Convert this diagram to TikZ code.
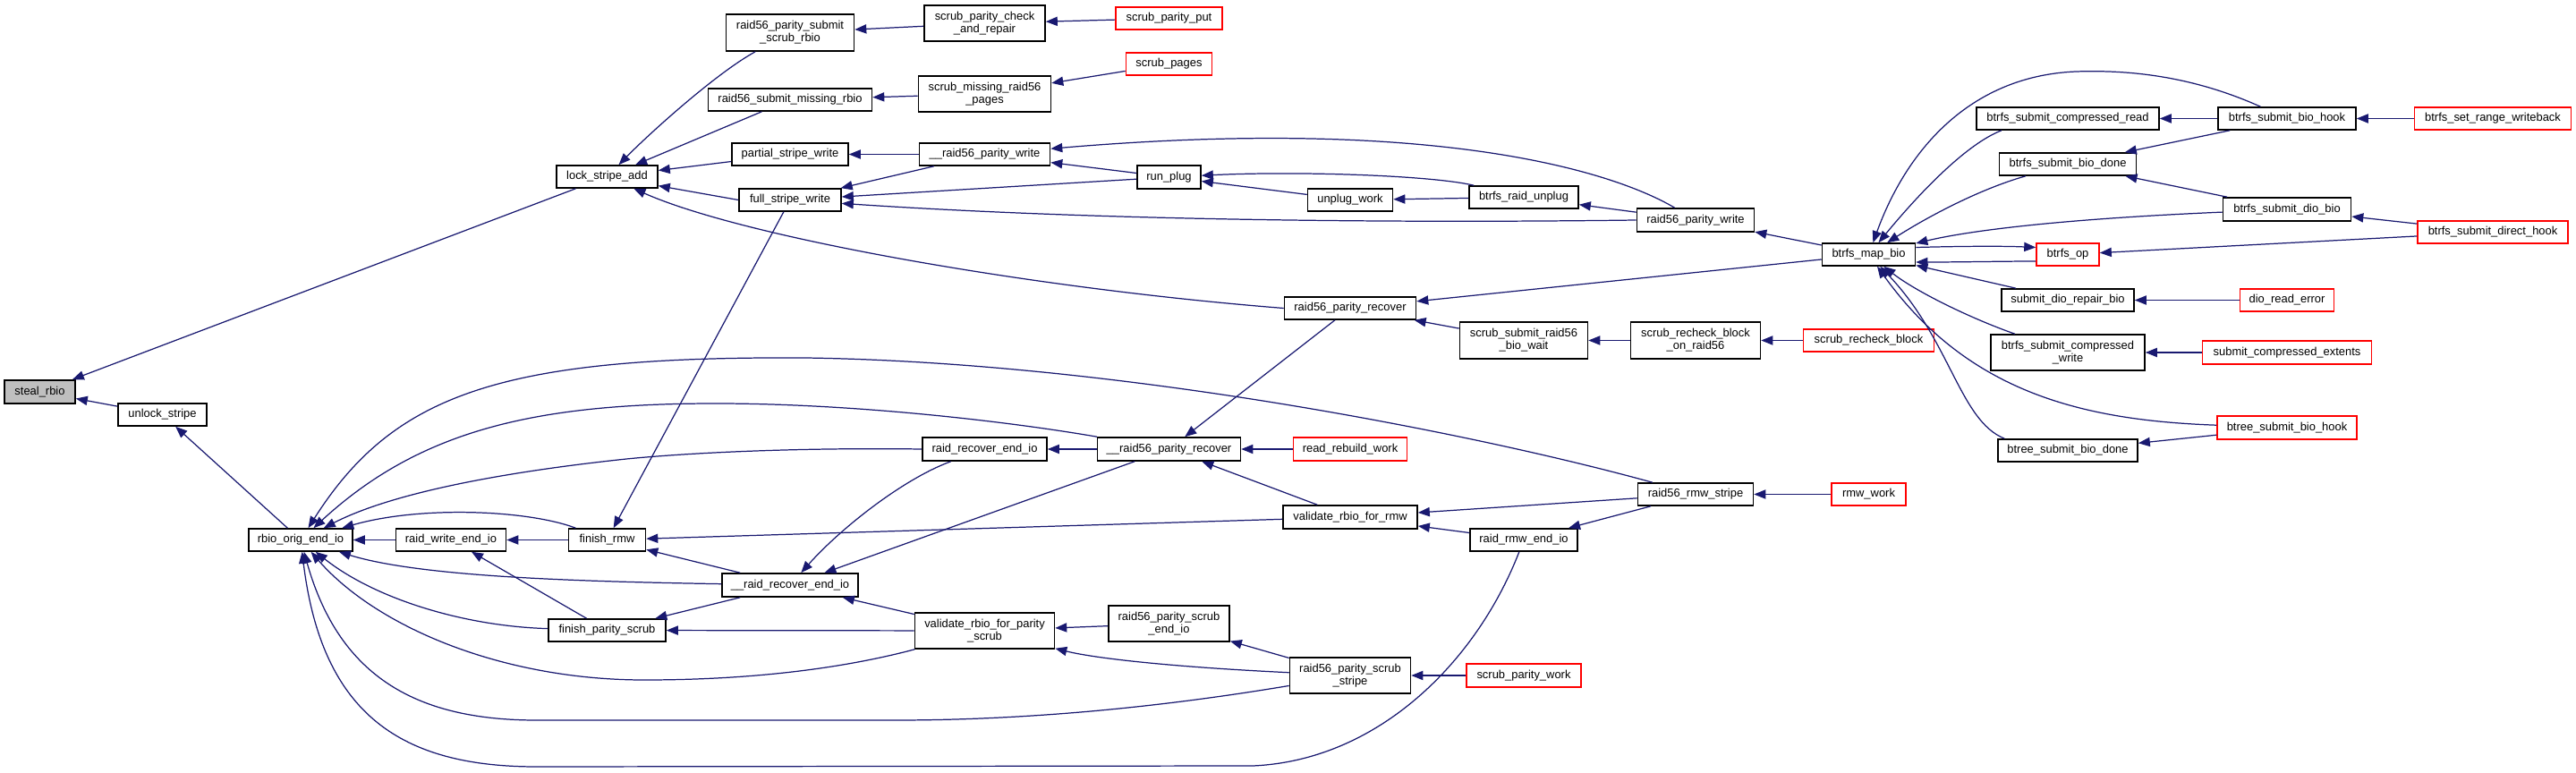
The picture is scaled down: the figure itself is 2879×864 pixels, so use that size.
\documentclass[tikz,border=0pt]{standalone}
\usepackage{fontspec}
\setmainfont{Liberation Sans}
\usetikzlibrary{arrows.meta}
\definecolor{edgeblue}{HTML}{191970}
\definecolor{grayfill}{HTML}{BFBFBF}
\tikzset{
  wh/.style 2 args={minimum width=#1*0.01cm,minimum height=#2*0.01cm},
  nb/.style={draw=black,line width=0.45pt,fill=white,inner sep=0pt,align=center,
             font=\fontsize{3.68pt}{4pt}\selectfont},
  rb/.style={nb,draw=red},
  arr/.style={draw=edgeblue,line width=0.35pt,-{Triangle[length=3.7pt,width=2.9pt]}}
}
\begin{document}
\begin{tikzpicture}[x=0.01cm,y=-0.01cm]
\useasboundingbox (0,0) rectangle (2879,864);
% ---- nodes ----
\node[nb,wh={79}{26},fill=grayfill] (sr) at (44.5,438) {steal\_rbio};
\node[nb,wh={99}{25}] (us) at (181.5,463.5) {unlock\_stripe};
\node[nb,wh={116}{25}] (roe) at (336,603.5) {rbio\_orig\_end\_io};
\node[nb,wh={123}{25}] (rwe) at (504,603.5) {raid\_write\_end\_io};
\node[nb,wh={113}{25}] (lsa) at (678.5,197.5) {lock\_stripe\_add};
\node[nb,wh={86}{25}] (frmw) at (678.5,603.5) {finish\_rmw};
\node[nb,wh={131}{25}] (fps) at (678.5,704.5) {finish\_parity\_scrub};
\node[nb,wh={143}{41}] (rpssr) at (883,36.5) {raid56\_parity\_submit\\\_scrub\_rbio};
\node[nb,wh={183}{25}] (rsmr) at (883,111.5) {raid56\_submit\_missing\_rbio};
\node[nb,wh={130}{25}] (psw) at (883,172.5) {partial\_stripe\_write};
\node[nb,wh={114}{25}] (fsw) at (883,223.5) {full\_stripe\_write};
\node[nb,wh={152}{26}] (rre2) at (883,654) {\_\_raid\_recover\_end\_io};
\node[nb,wh={135}{40}] (spcr) at (1100.5,26) {scrub\_parity\_check\\\_and\_repair};
\node[nb,wh={148}{40}] (smrp) at (1100.5,105) {scrub\_missing\_raid56\\\_pages};
\node[nb,wh={146}{25}] (rpw2) at (1100.5,172.5) {\_\_raid56\_parity\_write};
\node[nb,wh={139}{26}] (rree) at (1100.5,502) {raid\_recover\_end\_io};
\node[nb,wh={156}{40}] (vps) at (1100.5,705) {validate\_rbio\_for\_parity\\\_scrub};
\node[rb,wh={119}{25}] (spp) at (1306.5,20.5) {scrub\_parity\_put};
\node[rb,wh={96}{25}] (sp) at (1306.5,71.5) {scrub\_pages};
\node[nb,wh={71}{26}] (rp) at (1306.5,198) {run\_plug};
\node[nb,wh={160}{26}] (rpr2) at (1306.5,502) {\_\_raid56\_parity\_recover};
\node[nb,wh={135}{40}] (psei) at (1306.5,697) {raid56\_parity\_scrub\\\_end\_io};
\node[nb,wh={95}{25}] (uw) at (1509,223.5) {unplug\_work};
\node[nb,wh={147}{25}] (rpr) at (1509,344.5) {raid56\_parity\_recover};
\node[rb,wh={127}{26}] (rrw) at (1509,502) {read\_rebuild\_work};
\node[nb,wh={150}{26}] (vrr) at (1509,578) {validate\_rbio\_for\_rmw};
\node[nb,wh={135}{40}] (pss) at (1509,755) {raid56\_parity\_scrub\\\_stripe};
\node[nb,wh={122}{25}] (bru) at (1703,220.5) {btrfs\_raid\_unplug};
\node[nb,wh={143}{41}] (ssrb) at (1703,380.5) {scrub\_submit\_raid56\\\_bio\_wait};
\node[nb,wh={120}{25}] (rrei) at (1703,603.5) {raid\_rmw\_end\_io};
\node[rb,wh={128}{26}] (spw) at (1703,755) {scrub\_parity\_work};
\node[nb,wh={131}{26}] (rpw) at (1895,246) {raid56\_parity\_write};
\node[nb,wh={145}{41}] (srbr) at (1895,380.5) {scrub\_recheck\_block\\\_on\_raid56};
\node[nb,wh={129}{25}] (rms) at (1895,552.5) {raid56\_rmw\_stripe};
\node[nb,wh={104}{25}] (bmb) at (2088.5,284.5) {btrfs\_map\_bio};
\node[rb,wh={146}{25}] (srb) at (2088.5,380.5) {scrub\_recheck\_block};
\node[rb,wh={83}{25}] (rw) at (2088.5,552.5) {rmw\_work};
\node[nb,wh={204}{25}] (bscr) at (2311,132.5) {btrfs\_submit\_compressed\_read};
\node[nb,wh={153}{25}] (bsbd) at (2311,183.5) {btrfs\_submit\_bio\_done};
\node[rb,wh={70}{25}] (bop) at (2311,284.5) {btrfs\_op};
\node[nb,wh={148}{25}] (sdrb) at (2311,335.5) {submit\_dio\_repair\_bio};
\node[nb,wh={172}{40}] (bscw) at (2311,394) {btrfs\_submit\_compressed\\\_write};
\node[nb,wh={156}{25}] (btsbd) at (2311,503.5) {btree\_submit\_bio\_done};
\node[nb,wh={154}{25}] (bsbh) at (2556,132.5) {btrfs\_submit\_bio\_hook};
\node[nb,wh={143}{26}] (bsdb) at (2556,234) {btrfs\_submit\_dio\_bio};
\node[rb,wh={105}{25}] (dre) at (2556,335.5) {dio\_read\_error};
\node[rb,wh={189}{26}] (sce) at (2556,394) {submit\_compressed\_extents};
\node[rb,wh={156}{26}] (btsbh) at (2556,478) {btree\_submit\_bio\_hook};
\node[rb,wh={175}{25}] (bsrw) at (2786,132.5) {btrfs\_set\_range\_writeback};
\node[rb,wh={168}{25}] (bsdh) at (2786,259.5) {btrfs\_submit\_direct\_hook};
% ---- edges ----
\draw[arr] (lsa) -- (sr);
\draw[arr] (us) -- (sr);
\draw[arr] (roe) -- (us);
\draw[arr] (rpssr) .. controls (800,82) and (725,150) .. (lsa);
\draw[arr] (rsmr) -- (lsa);
\draw[arr] (psw) -- (lsa);
\draw[arr] (fsw.west) -- (lsa);
\draw[arr] (rpr.west) .. controls (1150,322) and (830,265) .. (lsa);
\draw[arr] (spcr) -- (rpssr);
\draw[arr] (spp) -- (spcr);
\draw[arr] (smrp) -- (rsmr);
\draw[arr] (sp) -- (smrp);
\draw[arr] (rpw2) -- (psw);
\draw[arr] (rpw2) -- (fsw);
\draw[arr] (rp) -- (fsw);
\draw[arr] (rpw.west) .. controls (1600,249) and (1250,248) .. (fsw);
\draw[arr] (fsw) -- (frmw);
\draw[arr] (rp) -- (rpw2);
\draw[arr] (rpw) .. controls (1800,190) and (1600,130) .. (rpw2);
\draw[arr] (uw) -- (rp);
\draw[arr] (bru) .. controls (1600,196) and (1450,191) .. (rp);
\draw[arr] (bru) -- (uw);
\draw[arr] (rpw) -- (bru);
\draw[arr] (bmb) -- (rpw);
\draw[arr] (bmb) -- (rpr);
\draw[arr] (ssrb) -- (rpr);
\draw[arr] (srbr) -- (ssrb);
\draw[arr] (srb) -- (srbr);
\draw[arr] (rpr) -- (rpr2);
\draw[arr] (rrw) -- (rpr2);
\draw[arr] (vrr) -- (rpr2);
\draw[arr] (rpr2) -- (rree);
\draw[arr] (rree.west) .. controls (880,500) and (760,507) .. (700,513) .. controls (540,530) and (430,555) .. (roe);
\draw[arr] (rpr2) .. controls (1120,470) and (950,451) .. (800,451) .. controls (600,451) and (470,480) .. (roe);
\draw[arr] (rree) .. controls (1010,535) and (940,590) .. (rre2);
\draw[arr] (rpr2) -- (rre2);
\draw[arr] (rre2) -- (frmw);
\draw[arr] (rre2) -- (fps);
\draw[arr] (rre2) .. controls (650,650) and (470,645) .. (roe);
\draw[arr] (vps) -- (rre2);
\draw[arr] (vps) -- (fps);
\draw[arr] (vps) .. controls (950,745) and (850,760) .. (720,760) .. controls (560,760) and (420,700) .. (roe);
\draw[arr] (psei) -- (vps);
\draw[arr] (pss) .. controls (1300,745) and (1220,735) .. (vps);
\draw[arr] (pss) -- (psei);
\draw[arr] (spw) -- (pss);
\draw[arr] (pss) .. controls (1300,790) and (1150,805) .. (1000,805) -- (600,805) .. controls (470,805) and (380,760) .. (roe);
\draw[arr] (rrei) .. controls (1650,740) and (1540,850) .. (1400,856) -- (600,857) .. controls (450,857) and (360,800) .. (roe);
\draw[arr] (rms) -- (vrr);
\draw[arr] (rrei) -- (vrr);
\draw[arr] (rms) -- (rrei);
\draw[arr] (rw) -- (rms);
\draw[arr] (rms) .. controls (1650,485) and (1250,405) .. (900,400) .. controls (560,398) and (440,440) .. (roe);
\draw[arr] (rwe) -- (roe);
\draw[arr] (frmw) -- (rwe);
\draw[arr] (fps) -- (rwe);
\draw[arr] (frmw) .. controls (590,570) and (470,565) .. (roe);
\draw[arr] (fps) .. controls (520,700) and (420,670) .. (roe);
\draw[arr] (vrr) -- (frmw);
% btrfs_map_bio side
\draw[arr] (bsbh) .. controls (2450,85) and (2380,78) .. (2320,80) .. controls (2200,85) and (2130,170) .. (bmb);
\draw[arr] ([xshift=-0.74cm]bscr.south) .. controls (2200,160) and (2150,210) .. (bmb);
\draw[arr] (bsbd) .. controls (2210,212) and (2150,245) .. (bmb);
\draw[arr] (bsdb) .. controls (2300,245) and (2200,258) .. (bmb);
\draw[arr] ([yshift=0.08cm]bmb.east) .. controls (2200,275) and (2240,275) .. ([yshift=0.08cm]bop.west);
\draw[arr] ([yshift=-0.075cm]bop.west) .. controls (2240,292) and (2190,293) .. ([yshift=-0.085cm]bmb.east);
\draw[arr] (sdrb) -- (bmb);
\draw[arr] (bscw) .. controls (2200,355) and (2140,325) .. (bmb);
\draw[arr] (btsbh) .. controls (2330,470) and (2200,440) .. (bmb);
\draw[arr] ([xshift=0.08cm]btsbd.north west) .. controls (2190,470) and (2180,380) .. (bmb);
\draw[arr] (bsbh) -- (bscr);
\draw[arr] (bsbh) -- (bsbd);
\draw[arr] (bsdb) -- (bsbd);
\draw[arr] (bsrw) -- (bsbh);
\draw[arr] (bsdh) -- (bsdb);
\draw[arr] (bsdh) -- (bop);
\draw[arr] (dre) -- (sdrb);
\draw[arr] (sce) -- (bscw);
\draw[arr] (btsbh) -- (btsbd);
\end{tikzpicture}
\end{document}
